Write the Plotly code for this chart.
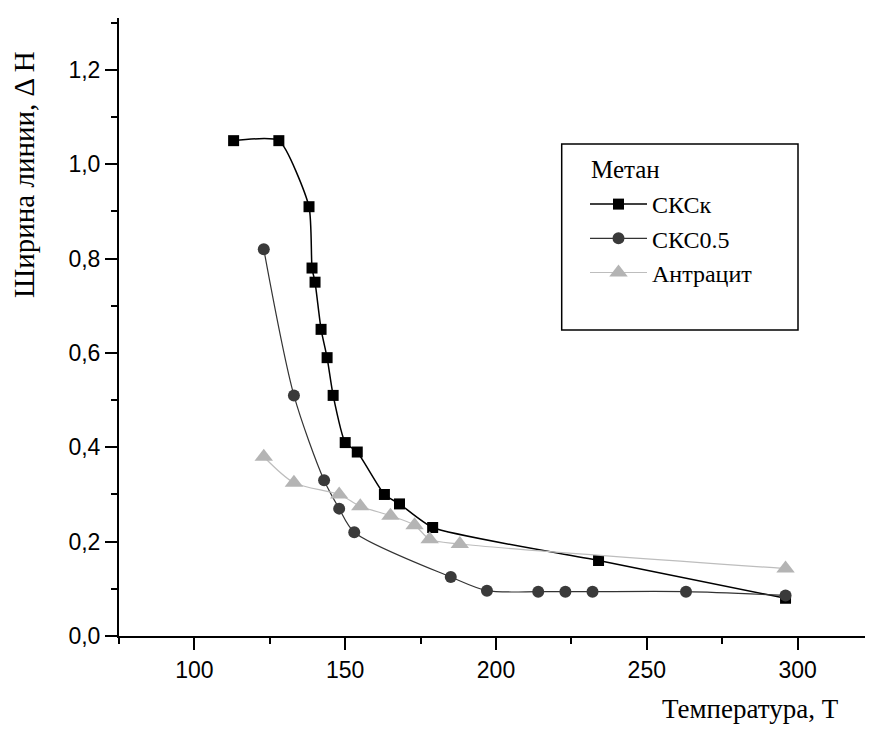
import plotly.graph_objects as go

# Data
t_sksk = [113, 128, 138, 139, 140, 142, 144, 146, 150, 154, 163, 168, 179, 234, 296]
v_sksk = [1.05, 1.05, 0.91, 0.78, 0.75, 0.65, 0.59, 0.51, 0.41, 0.39, 0.30, 0.28, 0.23, 0.16, 0.08]

t_sks05 = [123, 133, 143, 148, 153, 185, 197, 214, 223, 232, 263, 296]
v_sks05 = [0.82, 0.51, 0.33, 0.27, 0.22, 0.125, 0.096, 0.094, 0.094, 0.094, 0.094, 0.086]

t_antr = [123, 133, 148, 155, 165, 173, 178, 188, 296]
v_antr = [0.38, 0.325, 0.30, 0.275, 0.255, 0.235, 0.205, 0.195, 0.143]

names = ["СКСк", "СКС0.5", "Антрацит"]
legend_title = "Метан"
x_title = "Температура, Т"
y_title = "Ширина линии, Δ Н"

SERIF = "Liberation Serif, Times New Roman, serif"
SANS = "Liberation Sans, Arial, sans-serif"

fig = go.Figure()
fig.add_trace(go.Scatter(
    x=t_sksk, y=v_sksk, name=names[0], mode="lines+markers",
    line=dict(color="#000000", width=1.5, shape="spline", smoothing=0.55),
    marker=dict(symbol="square", size=11, color="#000000"),
))
fig.add_trace(go.Scatter(
    x=t_sks05, y=v_sks05, name=names[1], mode="lines+markers",
    line=dict(color="#333333", width=1.2, shape="spline", smoothing=0.8),
    marker=dict(symbol="circle", size=12, color="#3a3a3a"),
))
fig.add_trace(go.Scatter(
    x=t_antr, y=v_antr, name=names[2], mode="lines+markers",
    line=dict(color="#bdbdbd", width=1.2, shape="spline", smoothing=0.8),
    marker=dict(symbol="triangle-up", size=16, color="#b4b4b4"),
))

# page has an 8px body margin, so the figure is shifted by 8px
W, H = 865, 723
L, R, T, B = 111, 0, 10, 95
pw, ph = W - L - R, H - T - B

def px(xp):  # reference screen px -> paper fraction
    return (xp - 8 - L) / pw

def py(yp):
    return (H - B - (yp - 8)) / ph

fig.update_layout(
    width=W, height=H,
    margin=dict(l=L, r=R, t=T, b=B),
    paper_bgcolor="white", plot_bgcolor="white",
    separators=", ",
    showlegend=True,
    legend=dict(
        x=px(585), y=py(182), xanchor="left", yanchor="top",
        font=dict(family=SERIF, size=24, color="black"),
        bgcolor="rgba(0,0,0,0)", borderwidth=0,
        itemwidth=57,
    ),
    xaxis=dict(
        range=[75, 325], showgrid=False, zeroline=False,
        showline=True, linecolor="black", linewidth=2,
        ticks="outside", ticklen=12, tickwidth=2, tickcolor="black",
        tick0=0, dtick=50,
        tickfont=dict(family=SANS, size=23, color="black"),
        minor=dict(ticks="outside", ticklen=6, tickwidth=2, tickcolor="black", dtick=25, tick0=0),
    ),
    yaxis=dict(
        range=[0, 1.31], showgrid=False, zeroline=False,
        showline=True, linecolor="black", linewidth=2,
        ticks="outside", ticklen=12, tickwidth=2, tickcolor="black",
        tick0=0, dtick=0.2, tickformat=".1f",
        tickfont=dict(family=SANS, size=23, color="black"),
        minor=dict(ticks="outside", ticklen=6, tickwidth=2, tickcolor="black", dtick=0.1, tick0=0),
    ),
    shapes=[dict(
        type="rect", xref="paper", yref="paper",
        x0=px(561.7), x1=px(798), y0=py(330), y1=py(144),
        line=dict(color="black", width=1.5), fillcolor="rgba(0,0,0,0)",
    )],
    annotations=[
        dict(text=legend_title, xref="paper", yref="paper", x=px(589), y=py(170),
             xanchor="left", yanchor="middle", showarrow=False,
             font=dict(family=SERIF, size=25, color="black")),
        dict(text=x_title, xref="paper", yref="paper", x=px(750.5), y=py(709),
             xanchor="center", yanchor="middle", showarrow=False,
             font=dict(family=SERIF, size=27, color="black")),
        dict(text=y_title, xref="paper", yref="paper", x=px(24), y=py(175),
             xanchor="center", yanchor="middle", showarrow=False, textangle=-90,
             font=dict(family=SERIF, size=29, color="black")),
    ],
)

fig.write_html("out.html")
